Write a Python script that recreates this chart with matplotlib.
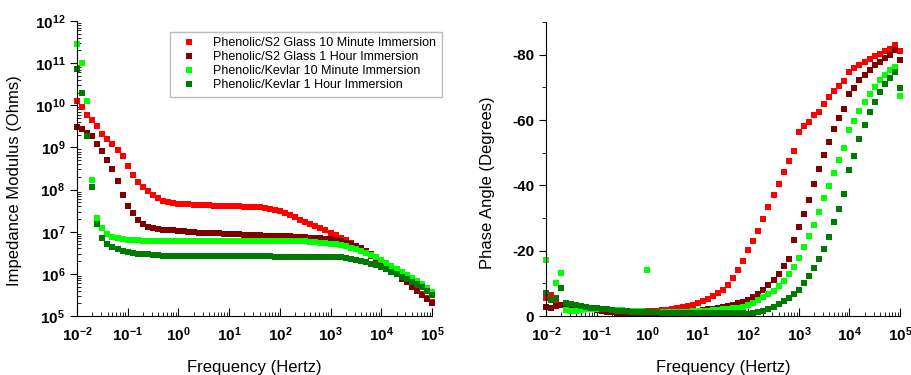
import numpy as np
import matplotlib
matplotlib.use('Agg')
from matplotlib import pyplot as plt
from matplotlib.ticker import LogLocator, NullFormatter, MultipleLocator

plt.rcParams['font.family'] = ['Liberation Sans', 'DejaVu Sans']
plt.rcParams['mathtext.fontset'] = 'custom'
plt.rcParams['mathtext.rm'] = 'Liberation Sans'
plt.rcParams['mathtext.bf'] = 'Liberation Sans:bold'
plt.rcParams['axes.unicode_minus'] = False

# frequency sweep (Hz), 10 points per decade
freq = [0.01, 0.0126, 0.0158, 0.02, 0.0251, 0.0316, 0.0398, 0.0501, 0.0631, 0.0794,
        0.1, 0.126, 0.158, 0.2, 0.251, 0.316, 0.398, 0.501, 0.631, 0.794,
        1, 1.26, 1.58, 2, 2.51, 3.16, 3.98, 5.01, 6.31, 7.94,
        10, 12.6, 15.8, 20, 25.1, 31.6, 39.8, 50.1, 63.1, 79.4,
        100, 126, 158, 200, 251, 316, 398, 501, 631, 794,
        1000, 1260, 1580, 2000, 2510, 3160, 3980, 5010, 6310, 7940,
        10000, 12600, 15800, 20000, 25100, 31600, 39800, 50100, 63100, 79400, 100000]

labels = ['Phenolic/S2 Glass 10 Minute Immersion',
          'Phenolic/S2 Glass 1 Hour Immersion',
          'Phenolic/Kevlar 10 Minute Immersion',
          'Phenolic/Kevlar 1 Hour Immersion']
colors = ['#ff0000', '#800000', '#00ff00', '#007a00']

# log10 of |Z| (Ohms)
logz_glass_10m = [10.11, 9.96, 9.78, 9.65, 9.50, 9.33, 9.21, 9.08, 8.95, 8.79,
                  8.57, 8.35, 8.18, 8.06, 7.96, 7.86, 7.80, 7.74, 7.70, 7.67,
                  7.66, 7.65, 7.65, 7.64, 7.64, 7.63, 7.63, 7.62, 7.62, 7.61,
                  7.61, 7.60, 7.60, 7.59, 7.59, 7.59, 7.58, 7.57, 7.55, 7.52,
                  7.48, 7.44, 7.39, 7.34, 7.29, 7.24, 7.19, 7.13, 7.08, 7.03,
                  6.97, 6.92, 6.86, 6.81, 6.74, 6.67, 6.60, 6.52, 6.43, 6.34,
                  6.25, 6.16, 6.07, 5.99, 5.90, 5.81, 5.72, 5.63, 5.53, 5.43, 5.33]
logz_glass_1h = [9.49, 9.44, 9.35, 9.26, 9.09, 8.91, 8.69, 8.48, 8.20, 7.88,
                 7.62, 7.44, 7.28, 7.19, 7.12, 7.08, 7.06, 7.05, 7.04, 7.03,
                 7.02, 7.01, 7.00, 6.99, 6.98, 6.98, 6.97, 6.96, 6.96, 6.95,
                 6.95, 6.94, 6.94, 6.93, 6.93, 6.92, 6.92, 6.91, 6.91, 6.90,
                 6.90, 6.89, 6.89, 6.88, 6.88, 6.87, 6.86, 6.85, 6.84, 6.83,
                 6.82, 6.80, 6.77, 6.74, 6.70, 6.66, 6.62, 6.55, 6.46, 6.37,
                 6.27, 6.18, 6.08, 5.99, 5.89, 5.80, 5.70, 5.60, 5.50, 5.40, 5.30]
logz_kevlar_10m = [11.45, 11.00, 10.11, 8.22, 7.33, 7.08, 6.95, 6.88, 6.84, 6.82,
                   6.81, 6.80, 6.80, 6.79, 6.79, 6.79, 6.78, 6.78, 6.78, 6.78,
                   6.78, 6.78, 6.78, 6.79, 6.79, 6.79, 6.79, 6.79, 6.79, 6.79,
                   6.79, 6.79, 6.79, 6.79, 6.79, 6.79, 6.79, 6.79, 6.79, 6.79,
                   6.79, 6.78, 6.78, 6.78, 6.78, 6.77, 6.76, 6.75, 6.74, 6.73,
                   6.72, 6.70, 6.68, 6.65, 6.62, 6.59, 6.55, 6.50, 6.45, 6.39,
                   6.33, 6.26, 6.18, 6.11, 6.04, 5.97, 5.90, 5.83, 5.75, 5.67, 5.58]
logz_kevlar_1h = [10.87, 10.28, 9.28, 8.07, 7.19, 6.85, 6.70, 6.63, 6.58, 6.55,
                  6.52, 6.50, 6.48, 6.47, 6.46, 6.45, 6.44, 6.43, 6.43, 6.43,
                  6.43, 6.43, 6.43, 6.43, 6.43, 6.43, 6.43, 6.42, 6.42, 6.42,
                  6.42, 6.42, 6.42, 6.42, 6.42, 6.42, 6.42, 6.42, 6.42, 6.41,
                  6.41, 6.41, 6.41, 6.41, 6.41, 6.41, 6.41, 6.41, 6.41, 6.41,
                  6.41, 6.40, 6.39, 6.37, 6.35, 6.33, 6.30, 6.27, 6.24, 6.21,
                  6.17, 6.11, 6.05, 5.99, 5.93, 5.87, 5.81, 5.75, 5.68, 5.60, 5.50]

# phase angle (degrees)
ph_glass_10m = [-5.5, -6.4, -4.0, -3.5, -3.6, -3.5, -3.2, -2.9, -2.7, -2.5,
                -2.4, -2.2, -2.0, -1.9, -1.8, -1.7, -1.6, -1.6, -1.5, -1.5,
                -1.5, -1.5, -1.6, -1.7, -1.9, -2.1, -2.4, -2.7, -3.0, -3.4,
                -3.9, -4.6, -5.3, -6.1, -7.1, -8.1, -9.5, -11.5, -14.0, -16.9,
                -20.2, -23.0, -26.1, -29.6, -33.4, -37.0, -40.3, -44.1, -47.3, -50.5,
                -56.3, -58.3, -59.3, -61.4, -62.6, -64.9, -67.0, -69.0, -70.5, -71.9,
                -74.8, -75.8, -76.8, -77.7, -78.7, -79.5, -80.2, -81.0, -81.7, -83.1, -81.2]
ph_glass_1h = [-2.8, -2.5, -3.0, -3.3, -3.6, -3.5, -3.2, -2.8, -2.4, -2.0,
               -1.8, -1.5, -1.3, -1.1, -1.0, -0.9, -0.9, -0.8, -0.8, -0.8,
               -0.8, -0.8, -0.9, -0.9, -1.0, -1.0, -1.1, -1.2, -1.3, -1.4,
               -1.6, -1.8, -2.0, -2.2, -2.5, -2.8, -3.1, -3.5, -3.9, -4.4,
               -4.9, -5.7, -6.7, -7.9, -9.5, -11.0, -12.8, -15.3, -17.6, -23.2,
               -27.3, -31.2, -35.4, -40.5, -44.9, -49.2, -53.2, -57.4, -60.6, -63.4,
               -68.0, -69.7, -72.2, -73.8, -75.3, -76.8, -77.9, -79.0, -80.0, -81.4, -78.4]
ph_kevlar_10m = [-17.1, -5.0, -10.2, -13.3, -1.8, -1.4, -1.6, -1.9, -2.1, -2.2,
                 -2.2, -2.1, -2.0, -1.9, -1.8, -1.7, -1.6, -1.5, -1.4, -1.4,
                 -14.1, -1.3, -1.3, -1.3, -1.3, -1.3, -1.3, -1.3, -1.3, -1.4,
                 -1.4, -1.5, -1.6, -1.7, -1.8, -2.0, -2.1, -2.3, -2.5, -2.8,
                 -3.4, -4.1, -4.9, -5.7, -6.6, -7.7, -9.2, -10.7, -12.8, -15.1,
                 -17.9, -21.0, -24.4, -27.8, -31.9, -36.2, -39.7, -43.9, -47.9, -51.5,
                 -57.0, -59.8, -62.9, -65.4, -68.0, -70.0, -72.1, -73.8, -75.3, -76.3, -67.5]
ph_kevlar_1h = [-6.9, -5.0, -5.5, -8.7, -3.9, -3.8, -3.5, -3.2, -2.9, -2.6,
                -2.4, -2.2, -2.0, -1.8, -1.6, -1.5, -1.4, -1.3, -1.2, -1.2,
                -1.1, -1.1, -1.1, -1.0, -1.0, -1.0, -1.0, -1.0, -1.0, -1.0,
                -1.0, -0.9, -0.9, -0.9, -0.9, -0.9, -0.8, -0.8, -0.8, -0.8,
                -0.7, -0.8, -1.2, -1.6, -2.2, -2.8, -3.7, -4.6, -5.6, -6.7,
                -8.1, -10.0, -12.2, -14.8, -17.4, -20.6, -24.3, -28.8, -32.8, -37.5,
                -44.6, -49.1, -54.2, -58.5, -62.6, -65.6, -68.7, -71.0, -72.8, -74.8, -69.7]

impedance = [logz_glass_10m, logz_glass_1h, logz_kevlar_10m, logz_kevlar_1h]
phase = [ph_glass_10m, ph_glass_1h, ph_kevlar_10m, ph_kevlar_1h]

xtick_vals = [1e-2, 1e-1, 1e0, 1e1, 1e2, 1e3, 1e4, 1e5]
xtick_labels = [r'$\mathbf{10^{-2}}$', r'$\mathbf{10^{-1}}$', r'$\mathbf{10^{0}}$', r'$\mathbf{10^{1}}$',
                r'$\mathbf{10^{2}}$', r'$\mathbf{10^{3}}$', r'$\mathbf{10^{4}}$', r'$\mathbf{10^{5}}$']
ytick_vals = [1e5, 1e6, 1e7, 1e8, 1e9, 1e10, 1e11, 1e12]
ytick_labels = [r'$\mathbf{10^{5}}$', r'$\mathbf{10^{6}}$', r'$\mathbf{10^{7}}$', r'$\mathbf{10^{8}}$',
                r'$\mathbf{10^{9}}$', r'$\mathbf{10^{10}}$', r'$\mathbf{10^{11}}$', r'$\mathbf{10^{12}}$']
phase_ticks = [0, -20, -40, -60, -80]

fig = plt.figure(figsize=(9.11, 3.75), dpi=100)
ax1 = fig.add_axes([0.0845, 0.1573, 0.3897, 0.7867])
ax2 = fig.add_axes([0.5993, 0.1573, 0.3886, 0.7840])

for ax in (ax1, ax2):
    ax.spines['top'].set_visible(False)
    ax.spines['right'].set_visible(False)
    ax.set_xscale('log')
    ax.set_xlim(1e-2, 1e5)
    ax.set_xticks(xtick_vals)
    ax.set_xticklabels(xtick_labels, fontsize=11)
    ax.xaxis.set_minor_locator(LogLocator(base=10, subs=np.arange(2, 10), numticks=20))
    ax.xaxis.set_minor_formatter(NullFormatter())
    ax.tick_params(axis='x', which='major', direction='in', length=6, pad=7)
    ax.tick_params(axis='x', which='minor', direction='in', length=3)
    ax.set_xlabel('Frequency (Hertz)', fontsize=12, labelpad=11)

# impedance
for logz, c, lab in zip(impedance, colors, labels):
    ax1.plot(freq, 10.0 ** np.array(logz), 's', color=c, ms=4.2, mew=0,
             label=lab, clip_on=False)
ax1.set_yscale('log')
ax1.set_ylim(1e5, 1e12)
ax1.set_yticks(ytick_vals)
ax1.set_yticklabels(ytick_labels, fontsize=11)
ax1.yaxis.set_minor_locator(LogLocator(base=10, subs=np.arange(2, 10), numticks=20))
ax1.yaxis.set_minor_formatter(NullFormatter())
ax1.tick_params(axis='y', which='major', direction='out', length=5)
ax1.tick_params(axis='y', which='minor', direction='in', length=3)
ax1.set_ylabel('Impedance Modulus (Ohms)', fontsize=12)
ax1.yaxis.set_label_coords(-0.155, 0.46)

leg = ax1.legend(loc='upper right', bbox_to_anchor=(0.485, 0.915),
                 bbox_transform=fig.transFigure, fontsize=9, frameon=True,
                 fancybox=False, borderaxespad=0, handletextpad=0.8,
                 labelspacing=0.15, borderpad=0.45, handlelength=2.2, markerscale=1.0)
leg.get_frame().set_edgecolor('#aaaaaa')
leg.get_frame().set_linewidth(1.0)

# phase
for ph, c in zip(phase, colors):
    ax2.plot(freq, ph, 's', color=c, ms=4.2, mew=0, clip_on=False)
ax2.set_ylim(0, -90)
ax2.set_yticks(phase_ticks)
ax2.set_yticklabels([str(t) for t in phase_ticks], fontsize=11, fontweight='bold')
ax2.yaxis.set_minor_locator(MultipleLocator(10))
ax2.tick_params(axis='y', which='major', direction='out', length=5)
ax2.tick_params(axis='y', which='minor', direction='out', length=3)
ax2.set_ylabel('Phase Angle (Degrees)', fontsize=12)
ax2.yaxis.set_label_coords(-0.145, 0.455)

fig.savefig('out.png', dpi=100)
